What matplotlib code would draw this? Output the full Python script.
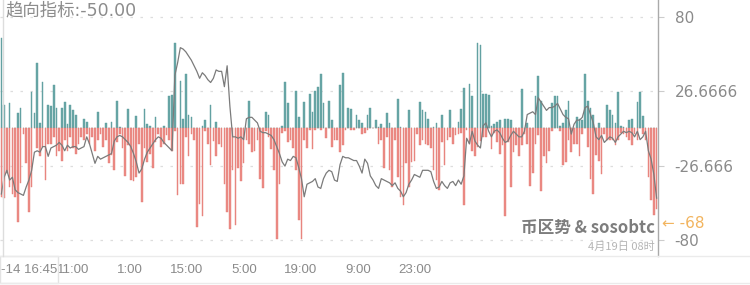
import matplotlib
matplotlib.use('Agg')
import matplotlib.pyplot as plt
import numpy as np

plt.rcParams['font.family'] = ['Noto Sans CJK SC', 'DejaVu Sans']

# buy volume (teal, above zero)
buy = [65, 17, 0, 18, 0, 0, 11, 15, 0, 0, 0, 26, 11, 47, 4, 33, 0, 17, 16, 31,
       15, 0, 15, 19, 3, 17, 13, 10, 0, 0, 7, 5, 0, 0, 0, 12, 0, 0, 4, 0,
       5, 0, 20, 1, 0, 0, 14, 0, 0, 9, 0, 0, 14, 3, 2, 0, 8, 0, 0, 2,
       0, 23, 24, 61, 0, 34, 7, 39, 10, 8, 0, 0, 0, 2, 6, 0, 17, 0, 5, 0,
       0, 0, 0, 0, 0, 0, 0, 0, 0, 0, 20, 0, 0, 0, 0, 0, 12, 10, 0, 0,
       0, 0, 2, 33, 18, 0, 0, 27, 8, 0, 19, 0, 25, 12, 27, 30, 39, 18, 0, 20,
       6, 0, 0, 31, 40, 0, 15, 14, 0, 10, 6, 4, 0, 10, 15, 0, 6, 1, 3, 0,
       11, 4, 0, 0, 21, 1, 0, 0, 13, 0, 0, 0, 19, 13, 12, 7, 0, 1, 4, 0,
       10, 0, 0, 13, 0, 0, 5, 14, 29, 0, 32, 23, 0, 61, 60, 25, 25, 24, 2, 3,
       5, 6, 0, 7, 7, 6, 0, 0, 0, 28, 0, 4, 0, 0, 23, 38, 20, 0, 0, 0,
       18, 23, 23, 2, 4, 13, 20, 0, 0, 8, 7, 6, 39, 20, 15, 10, 0, 4, 0, 0,
       17, 13, 10, 4, 26, 2, 1, 0, 6, 7, 0, 19, 26, 9, 0, 0, 0, 0, 0]

# sell volume (red, drawn below zero)
sell = [49, 50, 32, 42, 47, 49, 67, 39, 4, 25, 60, 42, 0, 14, 20, 13, 37, 11, 11, 6,
        20, 16, 23, 8, 16, 6, 14, 18, 11, 6, 8, 4, 11, 6, 16, 8, 4, 13, 8, 25,
        19, 30, 10, 4, 14, 34, 12, 37, 38, 35, 11, 53, 14, 24, 18, 28, 10, 4, 13, 11,
        5, 8, 16, 2, 48, 40, 40, 6, 20, 4, 8, 71, 54, 63, 2, 11, 26, 9, 20, 11,
        13, 40, 60, 72, 30, 69, 28, 38, 25, 8, 11, 17, 16, 8, 36, 43, 2, 6, 15, 30,
        79, 40, 3, 2, 10, 8, 14, 30, 66, 79, 8, 14, 1, 15, 1, 0, 1, 0, 7, 0,
        13, 8, 8, 17, 12, 1, 0, 1, 1, 0, 0, 4, 3, 1, 0, 0, 0, 11, 8, 28,
        6, 30, 42, 8, 35, 49, 55, 25, 42, 24, 23, 4, 12, 8, 11, 12, 14, 30, 37, 44,
        10, 26, 8, 6, 11, 5, 4, 3, 55, 1, 11, 16, 20, 13, 9, 6, 6, 0, 15, 3,
        10, 18, 12, 63, 10, 42, 17, 12, 20, 12, 4, 11, 41, 32, 11, 5, 45, 20, 25, 16,
        2, 0, 0, 2, 26, 24, 8, 17, 11, 11, 20, 4, 0, 13, 36, 47, 19, 23, 33, 4,
        8, 8, 8, 12, 8, 3, 4, 6, 8, 12, 4, 8, 0, 4, 8, 35, 51, 62, 58]

# trend indicator line
trend = [-47, -35, -30, -37, -35, -44, -46, -47, -48, -42, -37, -30, -17, -16, -17, -13, -13, -20, -14, -13,
         -12, -10, -12, -16, -12, -14, -13, -13, -15, -14, -13, -6, -11, -18, -25, -20, -22, -21, -20, -19,
         -18, -9, -6, -5, -6, -8, -10, -13, -18, -24, -32, -29, -22, -17, -14, -11, -8, -6, -7, -10,
         -12, -14, -16, 38, 47, 58, 57, 55, 52, 49, 45, 41, 36, 40, 38, 35, 33, 36, 42, 41,
         41, 30, 45, 16, -6, -6, -7, -6, -8, 7, 8, 8, 6, 4, -2, -3, -3, -4, -5, -8,
         -13, -18, -24, -27, -22, -23, -20, -21, -28, -36, -49, -40, -39, -38, -36, -42, -43, -36, -32, -30,
         -31, -37, -38, -26, -20, -21, -21, -22, -23, -23, -27, -32, -22, -25, -34, -37, -41, -43, -36, -37,
         -38, -39, -41, -39, -43, -45, -49, -46, -40, -37, -33, -34, -35, -30, -30, -30, -31, -38, -43, -42,
         -38, -41, -43, -39, -38, -41, -37, -40, -34, -7, -11, -2, -9, -12, -14, 2, 4, -2, -6, -2,
         -1, -3, -7, -10, -9, -5, -2, -4, -6, -6, -2, 10, 11, 12, 10, 22, 19, 16, 13, 15,
         15, 16, 18, 14, 10, 8, 7, -4, 3, 6, 6, 8, 15, 16, 10, 4, -6, -8, -5, -10,
         -8, -6, -7, -10, -6, -4, -2, -3, -2, -3, -6, -2, -8, -6, -2, -16, -22, -33, -50]

ytick_vals = [80, 26.6666, -26.666, -80]
ytick_labels = ['80', '26.6666', '-26.666', '-80']
xtick_pos = [26, 46.7, 67.4, 88.1, 108.8, 129.5, 150.2]
xtick_labels = ['11:00', '1:00', '15:00', '5:00', '19:00', '9:00', '23:00']
current_value = -68
title = '趋向指标:-50.00'

fig = plt.figure(figsize=(7.5, 2.85), dpi=100)
W, H = 750, 285
ax = fig.add_axes([0, 1 - 256 / H, 658 / W, 256 / H])

x = np.arange(len(buy))
ax.bar(x, buy, width=0.6, color='#6aa7a7', edgecolor='#5a9a9b', linewidth=0.3, zorder=2)
ax.bar(x, -np.array(sell), width=0.6, color='#ec8b85', edgecolor='#e47d77', linewidth=0.3, zorder=2)
ax.plot(x, trend, color='#7b7b7b', lw=0.9, zorder=3)

ax.set_xlim(-0.5, len(buy) - 0.5)
ax.set_ylim(-91.5, 92.2)

# right axis
ax.yaxis.tick_right()
ax.set_yticks(ytick_vals)
ax.set_yticklabels(ytick_labels, fontsize=11, color='#8a8a8a', family='DejaVu Sans')
ax.tick_params(axis='y', length=4, color='#cccccc', pad=8)
ax.grid(axis='y', color='#dddddd', linestyle=(0, (2, 6)), lw=0.9, zorder=0)

ax.set_xticks(xtick_pos)
ax.set_xticklabels(xtick_labels, fontsize=9.5, color='#8a8a8a', family='Liberation Sans')
ax.tick_params(axis='x', length=0, pad=6)

for s in ['top', 'bottom', 'left']:
    ax.spines[s].set_visible(False)
ax.spines['right'].set_color('#aaaaaa')
ax.spines['right'].set_linewidth(1)

# frame lines
fig.add_artist(plt.Line2D([0, 1], [1 - 256 / H, 1 - 256 / H], color='#ebebeb', lw=1))
fig.add_artist(plt.Line2D([0, 1], [1 - 283 / H, 1 - 283 / H], color='#ebebeb', lw=1))
fig.add_artist(plt.Line2D([3 / W, 3 / W], [1 - 256 / H, 1], color='#dddddd', lw=1))

# first time label box
fig.add_artist(plt.Rectangle((0, 1 - 283 / H), 58 / W, 27 / H, transform=fig.transFigure,
                             facecolor='white', edgecolor='#e3e3e3', lw=1))
fig.text(1 / W, 1 - 270 / H, '-14 16:45', fontsize=9.5, color='#8a8a8a', va='center',
         ha='left', family='Liberation Sans')

fig.text(5 / W, 1 - 10 / H, title, fontsize=12.5, color='#8c8c8c', va='center', ha='left',
         family=['DejaVu Sans', 'Noto Sans CJK SC'])

# current value marker
ax.annotate('← ' + str(current_value), xy=(1, current_value), xycoords=('axes fraction', 'data'),
            xytext=(3, 0), textcoords='offset points', fontsize=11, color='#f2b45e',
            va='center', ha='left', family='DejaVu Sans', annotation_clip=False)

fig.text(655 / W, 1 - 228 / H, '币区势 & sosobtc', fontsize=12, fontweight='bold',
         color='#7d7d7d', ha='right', va='center')
fig.text(655 / W, 1 - 247 / H, '4月19日 08时', fontsize=8, color='#b5b5b5',
         ha='right', va='center')

fig.savefig('out.png', dpi=100)
